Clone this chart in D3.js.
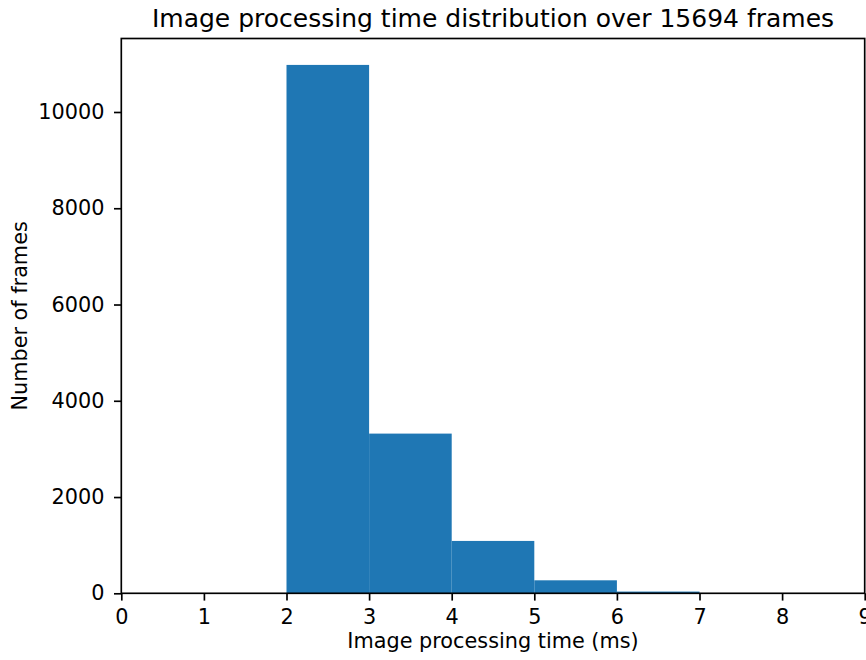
<!DOCTYPE html>
<html>
<head>
<meta charset="utf-8">
<script src="https://cdn.jsdelivr.net/npm/d3@7"></script>
<style>
  body { margin: 0; background: #fff; }
  svg { display: block; font-family: "DejaVu Sans", sans-serif; }
</style>
</head>
<body>
<svg id="chart" width="866" height="660"></svg>
<script>
// ---- data ----
const binStarts = [0, 1, 2, 3, 4, 5, 6, 7, 8];
const binEnds   = [1, 2, 3, 4, 5, 6, 7, 8, 9];
const counts    = [0, 0, 10978, 3318, 1088, 270, 36, 4, 0];
const xTicks = [0, 1, 2, 3, 4, 5, 6, 7, 8, 9];
const yTicks = [0, 2000, 4000, 6000, 8000, 10000];
const titleText = "Image processing time distribution over 15694 frames";
const xLabel = "Image processing time (ms)";
const yLabel = "Number of frames";

// ---- layout ----
const L = 121.3, R = 864.7, T = 38.5, B = 593.3;
const svg = d3.select("#chart");

const x = d3.scaleLinear().domain([0, 9]).range([L, R]);
const y = d3.scaleLinear().domain([0, d3.max(counts) * 1.05]).range([B, T]);

// bars
svg.append("g").selectAll("rect")
  .data(counts.map((c, i) => ({ c, x0: binStarts[i], x1: binEnds[i] })))
  .join("rect")
  .attr("x", d => x(d.x0))
  .attr("width", d => x(d.x1) - x(d.x0))
  .attr("y", d => y(d.c))
  .attr("height", d => B - y(d.c))
  .attr("fill", "#1f77b4");

// axes
const fs = 20.8;
const xAxis = svg.append("g").attr("transform", `translate(0,${B})`)
  .call(d3.axisBottom(x).tickValues(xTicks).tickFormat(d3.format("d"))
    .tickSize(7.3).tickPadding(9).tickSizeOuter(0));
const yAxis = svg.append("g").attr("transform", `translate(${L},0)`)
  .call(d3.axisLeft(y).tickValues(yTicks).tickFormat(d3.format("d"))
    .tickSize(7.3).tickPadding(9.5).tickSizeOuter(0));
[xAxis, yAxis].forEach(g => {
  g.select(".domain").remove();
  g.selectAll(".tick line").attr("stroke", "#000").attr("stroke-width", 1.67);
  g.selectAll(".tick text").attr("fill", "#000")
    .style("font-family", "DejaVu Sans").style("font-size", fs + "px");
});

// spines
svg.append("rect")
  .attr("x", L).attr("y", T).attr("width", R - L).attr("height", B - T)
  .attr("fill", "none").attr("stroke", "#000").attr("stroke-width", 1.67);

// title & labels
svg.append("text").attr("x", (L + R) / 2).attr("y", 27)
  .attr("text-anchor", "middle").style("font-size", "25px").attr("fill", "#000")
  .text(titleText);
svg.append("text").attr("x", (L + R) / 2).attr("y", 648)
  .attr("text-anchor", "middle").style("font-size", fs + "px").attr("fill", "#000")
  .text(xLabel);
svg.append("text")
  .attr("transform", `translate(27,${(T + B) / 2}) rotate(-90)`)
  .attr("text-anchor", "middle").style("font-size", fs + "px").attr("fill", "#000")
  .text(yLabel);
</script>
</body>
</html>
